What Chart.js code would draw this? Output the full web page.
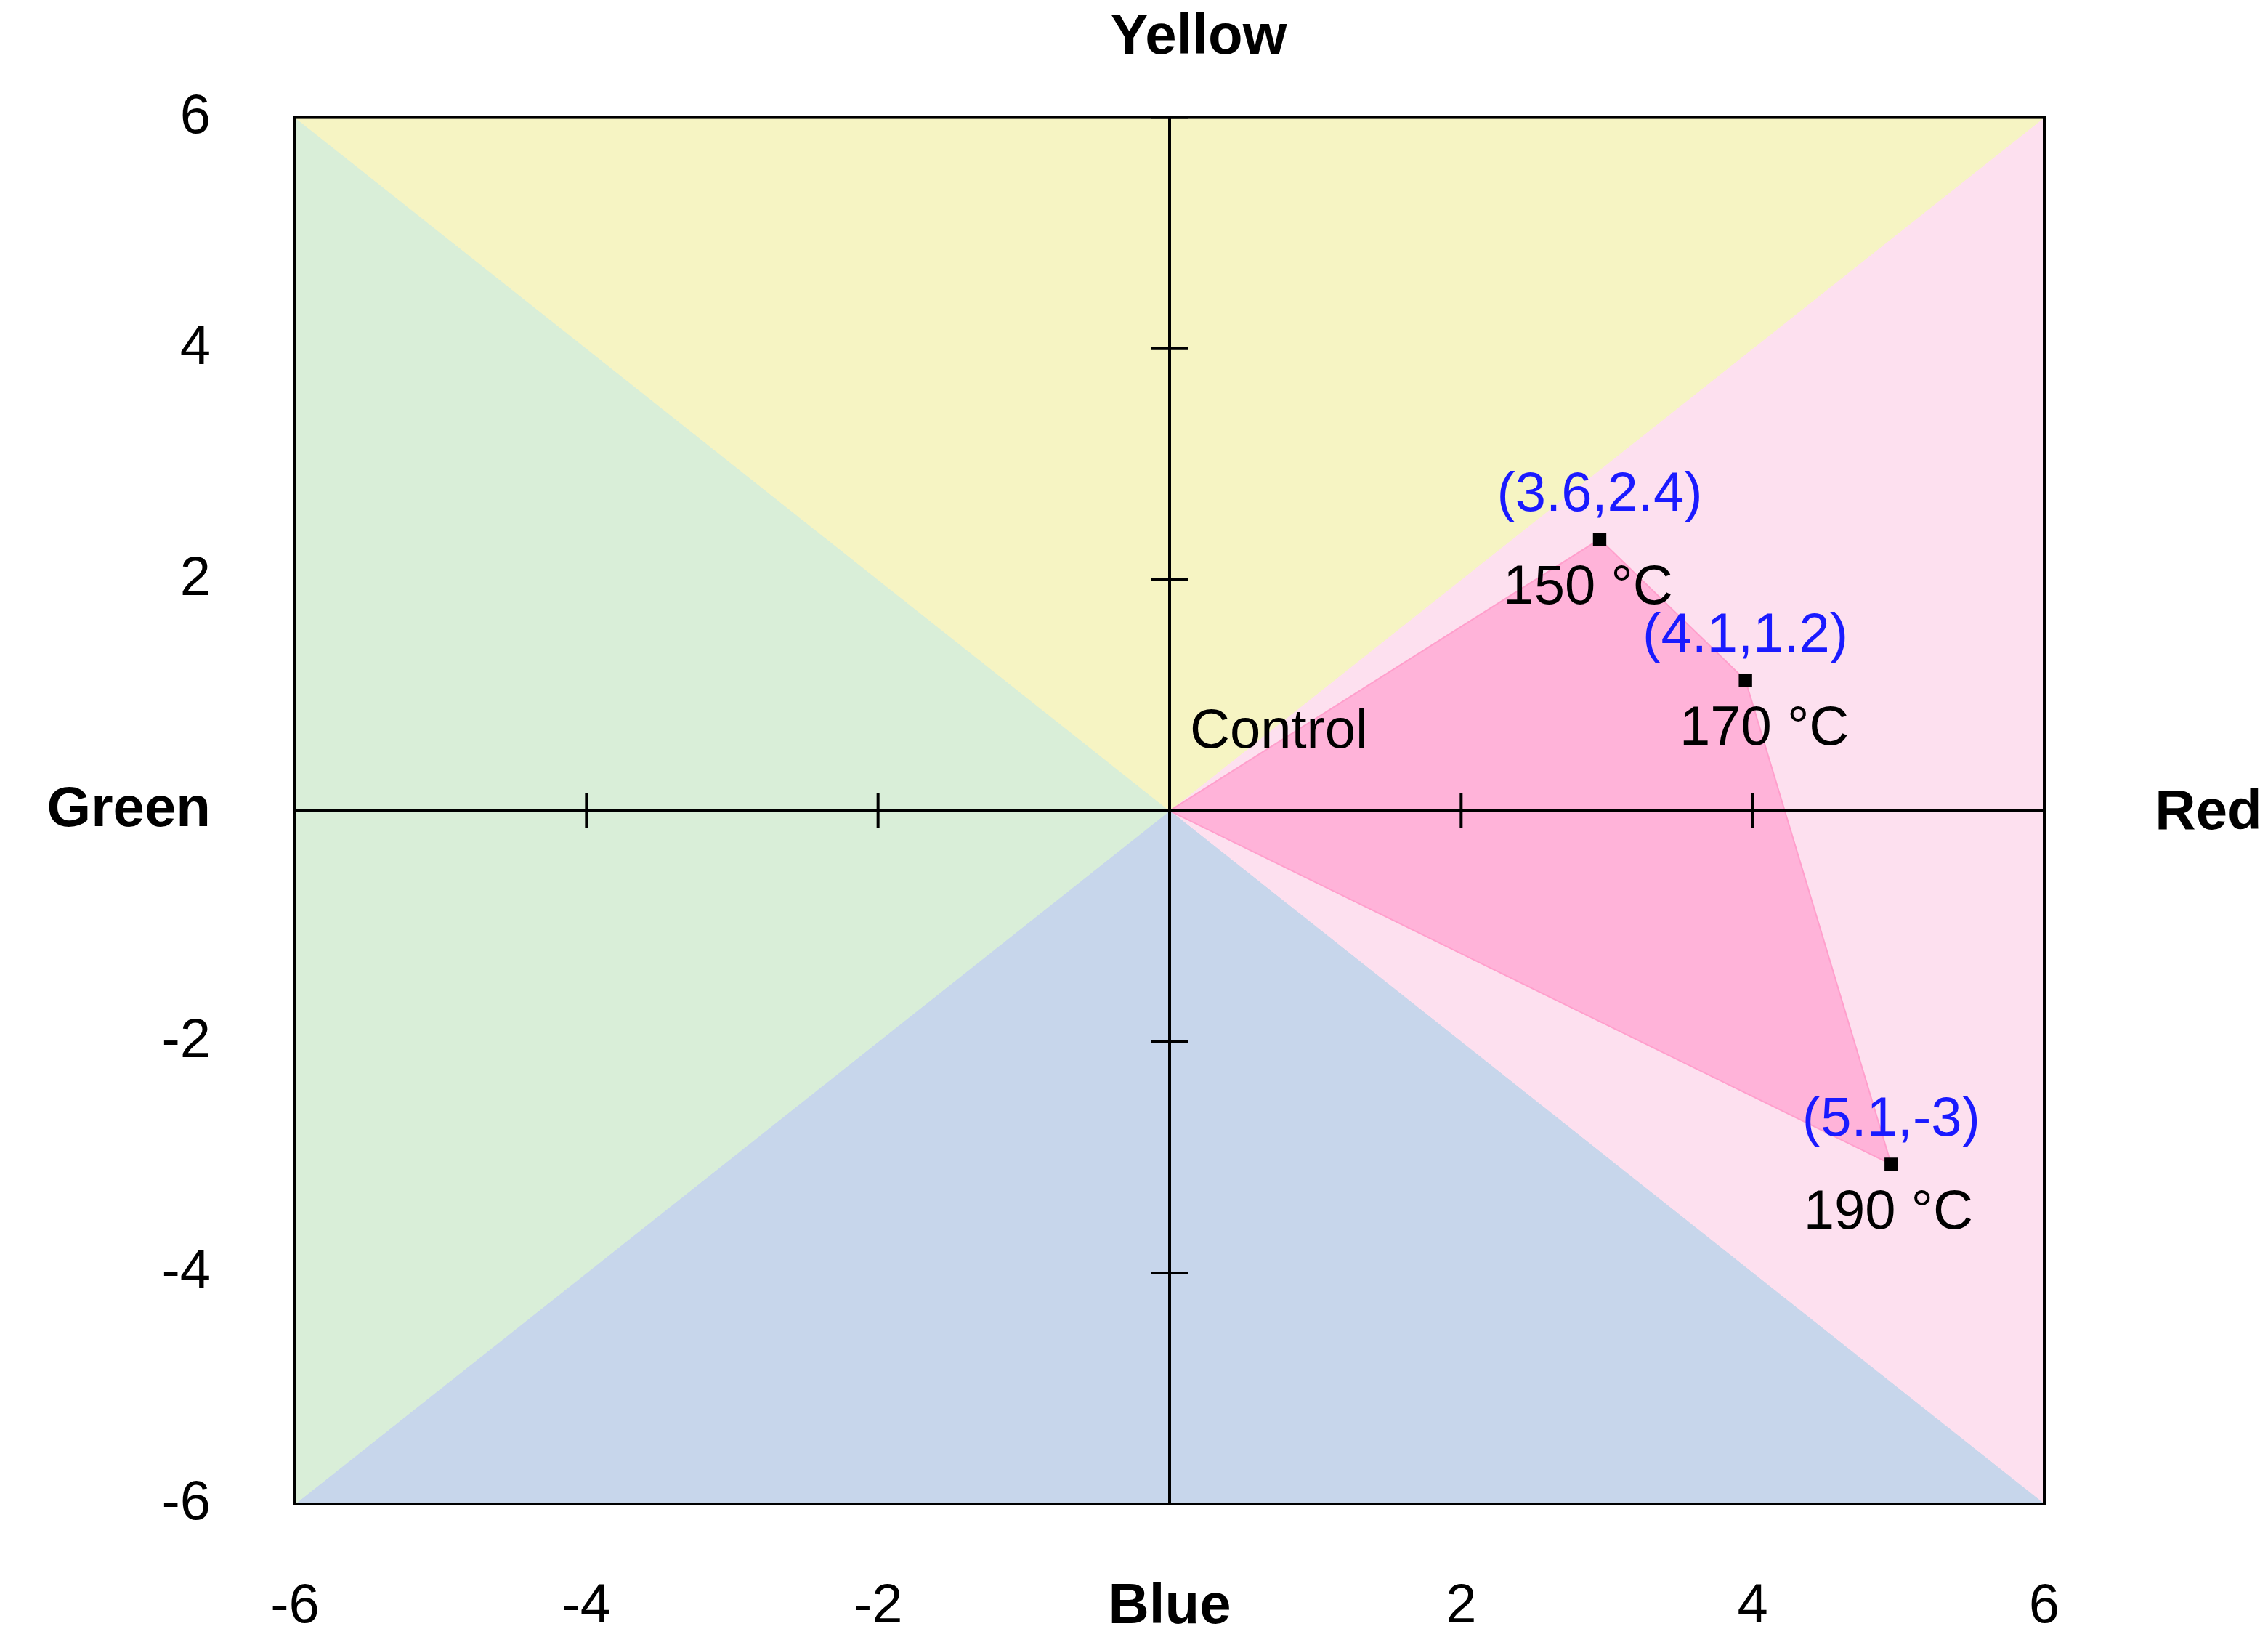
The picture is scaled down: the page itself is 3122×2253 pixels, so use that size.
<!DOCTYPE html>
<html>
<head>
<meta charset="utf-8">
<script src="https://cdn.jsdelivr.net/npm/chart.js@4"></script>
<style>body{margin:0;background:#fff}</style>
</head>
<body>
<canvas id="myChart" width="3122" height="2253"></canvas>
<script>
// values
const sampleX = [2.95, 3.95, 4.95];
const sampleY = [2.35, 1.13, -3.06];
const coordLabels = ['(3.6,2.4)', '(4.1,1.2)', '(5.1,-3)'];
const tempLabels = ['150 °C', '170 °C', '190 °C'];
const axisTicks = [-6, -4, -2, 0, 2, 4, 6];

const tri = (pts, color) => ({
    type: 'line',
    data: pts.map(p => ({x: p[0], y: p[1]})).concat([{x: pts[0][0], y: pts[0][1]}]),
    backgroundColor: color,
    borderColor: color,
    borderWidth: 1,
    pointRadius: 0,
    fill: 'shape',
    order: 5
});

const polygon = [{x: 0, y: 0}].concat(sampleX.map((x, i) => ({x: x, y: sampleY[i]})), [{x: 0, y: 0}]);

const overlay = {
    id: 'overlay',
    afterDatasetsDraw(chart) {
        const c = chart.ctx, xs = chart.scales.x, ys = chart.scales.y, a = chart.chartArea;
        const ox = xs.getPixelForValue(0), oy = ys.getPixelForValue(0);
        c.save();
        c.strokeStyle = '#000';
        c.lineWidth = 4;
        c.strokeRect(a.left, a.top, a.right - a.left, a.bottom - a.top);
        c.beginPath();
        c.moveTo(a.left, oy); c.lineTo(a.right, oy);
        c.moveTo(ox, a.top); c.lineTo(ox, a.bottom);
        axisTicks.forEach(v => {
            if (v === 0) return;
            const px = xs.getPixelForValue(v);
            c.moveTo(px, oy - 24); c.lineTo(px, oy + 24);
            const py = ys.getPixelForValue(v);
            c.moveTo(ox - 26, py); c.lineTo(ox + 26, py);
        });
        c.stroke();
        c.fillStyle = '#000';
        c.font = 'bold 78px Arial, "Liberation Sans"';
        c.textAlign = 'center';
        c.textBaseline = 'middle';
        c.fillText('Yellow', ox + 40, 52);
        c.fillText('Red', 3040, oy + 4);
        c.font = '76px Arial, "Liberation Sans"';
        c.textAlign = 'left';
        c.fillText('Control', ox + 28, oy - 108);
        c.textAlign = 'center';
        const meta = chart.getDatasetMeta(1);
        meta.data.forEach((pt, i) => {
            if (i === 0 || i > 3) return;
            const k = i - 1;
            c.fillStyle = '#1a1aff';
            c.fillText(coordLabels[k], pt.x, pt.y - 60);
            c.fillStyle = '#000';
            c.fillText(tempLabels[k], pt.x + [-16, 26, -4][k], pt.y + 68);
        });
        c.restore();
    }
};

new Chart(document.getElementById('myChart'), {
    type: 'scatter',
    data: {
        datasets: [
            tri([[0, 0], [-6, 6], [6, 6]], '#f6f4c3'),
            {
                type: 'line',
                data: polygon,
                backgroundColor: '#ffb3d9',
                borderColor: '#ff9fcc',
                borderWidth: 2,
                fill: 'shape',
                pointStyle: 'rect',
                pointRadius: polygon.map((p, i) => (i === 0 || i === polygon.length - 1) ? 0 : 13),
                pointBackgroundColor: '#000',
                pointBorderWidth: 0,
                order: 1
            },
            tri([[0, 0], [-6, 6], [-6, -6]], '#d9eed8'),
            tri([[0, 0], [-6, -6], [6, -6]], '#c7d6eb'),
            tri([[0, 0], [6, 6], [6, -6]], '#fde0ef')
        ]
    },
    options: {
        responsive: false,
        animation: false,
        layout: {padding: {left: 0, right: 308, top: 92, bottom: 0}},
        plugins: {legend: {display: false}, tooltip: {enabled: false}},
        scales: {
            x: {
                min: -6, max: 6,
                afterFit: s => { s.height = 183; },
                grid: {display: false, drawTicks: false},
                border: {display: false},
                afterBuildTicks: s => { s.ticks = axisTicks.map(v => ({value: v})); },
                ticks: {
                    padding: 96,
                    color: '#000',
                    font: ctx => ctx.tick && ctx.tick.value === 0 ?
                        {size: 78, weight: 'bold', family: 'Arial, "Liberation Sans"'} :
                        {size: 76, family: 'Arial, "Liberation Sans"'},
                    callback: v => v === 0 ? 'Blue' : v
                }
            },
            y: {
                min: -6, max: 6,
                afterFit: s => { s.width = 406; },
                grid: {display: false, drawTicks: false},
                border: {display: false},
                afterBuildTicks: s => { s.ticks = axisTicks.map(v => ({value: v})); },
                ticks: {
                    padding: 116,
                    color: '#000',
                    font: ctx => ctx.tick && ctx.tick.value === 0 ?
                        {size: 78, weight: 'bold', family: 'Arial, "Liberation Sans"'} :
                        {size: 76, family: 'Arial, "Liberation Sans"'},
                    callback: v => v === 0 ? 'Green' : v
                }
            }
        }
    },
    plugins: [overlay]
});
</script>
</body>
</html>
